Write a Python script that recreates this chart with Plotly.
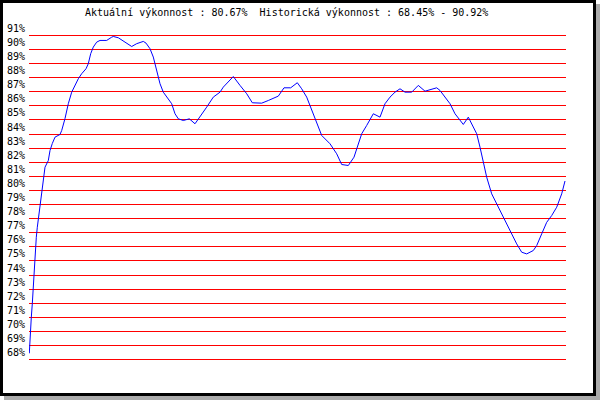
import plotly.graph_objects as go

# Sample positions and performance values (%)
t = [0.3, 1.3, 2.3, 3.3, 4.3, 5.3, 6.3, 7.3, 8.3, 9.7, 10.7, 12.7, 14.7, 16.0, 19.3, 21.0, 23.3,
     26.0, 31.0, 32.7, 36.0, 39.3, 42.7, 46.0, 49.3, 52.7, 57.0, 59.3, 61.7, 64.3, 67.7, 71.0,
     77.7, 82.7, 84.3, 89.3, 97.7, 102.7, 107.7, 114.3, 117.0, 121.0, 124.3, 127.7, 131.0, 134.3,
     137.7, 142.7, 146.0, 149.3, 154.3, 160.3, 166.0, 171.0, 177.7, 184.3, 191.0, 194.3, 204.3,
     211.0, 217.7, 223.3, 232.7, 239.3, 249.3, 255.0, 261.7, 268.3, 272.7, 277.7, 282.7, 287.7,
     292.7, 301.0, 307.7, 312.7, 319.3, 325.0, 332.7, 337.7, 344.3, 351.0, 356.0, 361.0, 366.0,
     371.0, 376.0, 382.7, 389.3, 396.0, 401.0, 407.7, 411.0, 417.7, 421.0, 426.0, 431.0, 434.3,
     439.3, 444.3, 447.7, 451.0, 454.3, 457.7, 462.7, 467.7, 472.7, 477.7, 482.7, 487.7, 492.7,
     497.7, 504.3, 507.7, 512.7, 517.7, 522.7, 527.7, 532.7, 536.0]
perf = [68.45, 70.06, 71.00, 71.97, 73.39, 74.55, 75.97, 76.68, 77.39, 78.10, 78.81, 79.99, 80.94,
        81.65, 82.12, 82.83, 83.33, 83.78, 83.97, 84.25, 85.10, 86.15, 86.97, 87.45, 87.92, 88.28,
        88.63, 88.99, 89.70, 90.17, 90.52, 90.64, 90.64, 90.87, 90.92, 90.83, 90.41, 90.21, 90.41,
        90.57, 90.45, 90.05, 89.46, 88.51, 87.57, 86.97, 86.62, 86.15, 85.44, 85.08, 84.96, 85.08,
        84.73, 85.20, 85.91, 86.62, 86.97, 87.33, 88.08, 87.45, 86.86, 86.22, 86.19, 86.38, 86.69,
        87.28, 87.28, 87.64, 87.21, 86.62, 85.67, 84.73, 83.90, 83.31, 82.60, 81.84, 81.77, 82.36,
        84.02, 84.61, 85.44, 85.20, 86.15, 86.62, 86.97, 87.21, 86.97, 86.97, 87.45, 87.04, 87.16,
        87.28, 87.09, 86.50, 86.15, 85.44, 84.96, 84.68, 85.20, 84.49, 84.02, 83.07, 81.89, 80.94,
        79.76, 79.05, 78.34, 77.63, 76.92, 76.21, 75.62, 75.50, 75.74, 76.09, 76.92, 77.74, 78.22,
        78.81, 79.76, 80.67]

levels = list(range(68, 92))
level_labels = [f"{v}%" for v in levels]
title_text = "Aktuální výkonnost : 80.67%  Historická výkonnost : 68.45% - 90.92%"

W, H = 600, 400
ML, MR, MT, MB = 29, 34, 30, 30
PW, PH = W - ML - MR, H - MT - MB
FONT = "DejaVu Sans Mono"
SCALE = 14.1          # px per percentage point
TOP_LINE = 35.35      # px centre of the 91 % line
Y_TOP = 91 + (TOP_LINE - MT) / SCALE
Y_BOT = Y_TOP - PH / SCALE


def px_x(p):
    return (p - ML) / PW


def px_y(p):
    return (H - MB - p) / PH


fig = go.Figure()
fig.add_trace(go.Scatter(x=t, y=perf, mode="lines",
                         line=dict(color="#0000ff", width=1), hoverinfo="skip"))

shapes = [
    dict(type="rect", xref="paper", yref="paper", layer="below",
         x0=px_x(4), x1=px_x(600), y0=px_y(4), y1=px_y(400),
         fillcolor="#ababab", line=dict(width=0)),
    dict(type="rect", xref="paper", yref="paper", layer="below",
         x0=px_x(0), x1=px_x(596), y0=px_y(0), y1=px_y(396),
         fillcolor="#000000", line=dict(width=0)),
    dict(type="rect", xref="paper", yref="paper", layer="below",
         x0=px_x(3), x1=px_x(593), y0=px_y(3), y1=px_y(393),
         fillcolor="#ffffff", line=dict(width=0)),
]

annotations = [
    dict(xref="paper", yref="paper", x=px_x(83), y=px_y(13), xanchor="left", yanchor="middle",
         text=title_text, showarrow=False, font=dict(family=FONT, size=10, color="black"))
]
for v, lab in zip(levels, level_labels):
    annotations.append(dict(xref="paper", yref="y", x=px_x(27), y=v, xanchor="right",
                            yanchor="middle", yshift=7, text=lab, showarrow=False,
                            font=dict(family=FONT, size=10, color="black")))

fig.update_layout(
    width=W, height=H,
    margin=dict(l=ML, r=MR, t=MT, b=MB, pad=0),
    paper_bgcolor="white", plot_bgcolor="rgba(0,0,0,0)",
    showlegend=False,
    shapes=shapes, annotations=annotations,
    xaxis=dict(range=[0, 537], showgrid=False, zeroline=False, showticklabels=False,
               ticks="", showline=False, fixedrange=True),
    yaxis=dict(range=[Y_BOT, Y_TOP], tickvals=levels, showgrid=True,
               gridcolor="#ff0000", gridwidth=1, zeroline=False, showticklabels=False,
               ticks="", showline=False, fixedrange=True),
)

fig.write_html("out.html", config={"displayModeBar": False},
               post_script="document.body.style.margin='0';document.body.style.overflow='hidden';")
